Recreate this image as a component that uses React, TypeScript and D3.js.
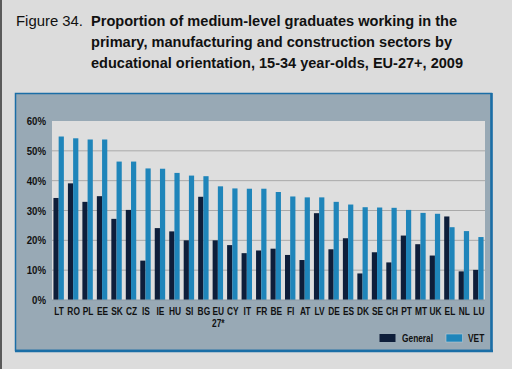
import React from 'react';
import * as d3 from 'd3';

// countries, ordered as in the figure
const countries = ['LT','RO','PL','EE','SK','CZ','IS','IE','HU','SI','BG','EU27','CY','IT','FR','BE','FI','AT','LV','DE','ES','DK','SE','CH','PT','MT','UK','EL','NL','LU'];
const generalVals = [34.2,39.1,32.9,34.8,27.2,30.2,13.2,24.1,23.0,20.0,34.6,20.0,18.4,15.7,16.6,17.2,15.1,13.4,29.1,17.0,20.7,8.9,16.0,12.6,21.6,18.7,14.9,28.0,9.6,10.1];
const vetVals = [54.8,54.2,53.8,53.8,46.4,46.4,44.1,44.0,42.6,41.7,41.5,38.1,37.4,37.3,37.3,36.2,34.7,34.4,34.4,32.9,32.0,31.1,31.0,30.9,30.2,29.2,28.9,24.4,23.1,21.1];
const yTicks = [0,10,20,30,40,50,60];
const seriesNames = ['General','VET'];

const W = 512, H = 369;
const plot = {left: 52, right: 485, top: 121, bottom: 300};
const cGeneral = '#0e1e3a', cVet = '#1f85ba';
const sans = '"Liberation Sans", Arial, Helvetica, sans-serif';

// condensed bold label: horizontal squeeze since no narrow font is installed
const Narrow = ({x, y, anchor = 'middle', sx = 0.76, size = 11, children}: any) => (
  <text transform={`translate(${x},${y}) scale(${sx},1)`} textAnchor={anchor}
    fontFamily={sans} fontSize={size} fontWeight="bold" fill="#111">{children}</text>
);

const App = (): JSX.Element => {
  const x = d3.scaleBand<string>().domain(countries).range([plot.left, plot.right]).paddingInner(0.28).paddingOuter(0.1);
  const sub = d3.scaleBand<string>().domain(seriesNames).range([0, x.bandwidth()]).padding(0);
  const y = d3.scaleLinear().domain([0, 60]).range([plot.bottom, plot.top]);
  const cx = (c: string) => x(c)! + x.bandwidth() / 2 + 0.5;

  return (
    <div style={{position: 'fixed', left: 0, top: 0}}>
      <svg width={W} height={H} style={{display: 'block'}}>
        <rect x={0} y={0} width={W} height={H} fill="#dcdcdc" />
        <rect x={0} y={0} width={2} height={H} fill="#5a5a5a" />

        {/* title */}
        <text x={16} y={26} fontFamily={sans} fontSize={14.5} fill="#111" textLength={67} lengthAdjust="spacingAndGlyphs">Figure 34.</text>
        <g fontFamily={sans} fontSize={15} fontWeight="bold" fill="#111">
          <text x={91} y={26} textLength={366} lengthAdjust="spacingAndGlyphs">Proportion of medium-level graduates working in the</text>
          <text x={91} y={47} textLength={361} lengthAdjust="spacingAndGlyphs">primary, manufacturing and construction sectors by</text>
          <text x={91} y={68} textLength={372} lengthAdjust="spacingAndGlyphs">educational orientation, 15-34 year-olds, EU-27+, 2009</text>
        </g>

        {/* panel */}
        <rect x={15.5} y={93.5} width={476} height={257} fill="#98a9b5" stroke="#1b6ea6" strokeWidth={1.5} />
        <line x1={491.5} y1={93} x2={491.5} y2={352} stroke="#1b6ea6" strokeWidth={2.5} />
        <line x1={15} y1={351} x2={493} y2={351} stroke="#1b6ea6" strokeWidth={2.5} />

        {/* plot area */}
        <rect x={plot.left} y={plot.top} width={plot.right - plot.left} height={plot.bottom - plot.top} fill="#dedede" />
        {yTicks.slice(1, -1).map(t => (
          <line key={t} x1={plot.left} x2={plot.right} y1={y(t)} y2={y(t)} stroke="#a9a9a9" strokeWidth={1} />
        ))}

        {/* bars */}
        {countries.map((c, i) => (
          <g key={c}>
            <rect x={x(c)! + sub('General')!} y={y(generalVals[i])} width={sub.bandwidth()} height={y(0) - y(generalVals[i])} fill={cGeneral} />
            <rect x={x(c)! + sub('VET')!} y={y(vetVals[i])} width={sub.bandwidth()} height={y(0) - y(vetVals[i])} fill={cVet} />
          </g>
        ))}
        <line x1={plot.left} x2={plot.right} y1={y(0)} y2={y(0)} stroke="#8a9aa6" strokeWidth={1} />

        {/* y axis labels */}
        {yTicks.map(t => (
          <Narrow key={t} x={46} y={y(t) + 4} anchor="end" sx={0.84} size={11.5}>{t}%</Narrow>
        ))}

        {/* x axis labels */}
        {countries.map(c => c === 'EU27' ? (
          <g key={c}>
            <Narrow x={cx(c)} y={315}>EU</Narrow>
            <Narrow x={cx(c)} y={327}>27*</Narrow>
          </g>
        ) : (
          <Narrow key={c} x={cx(c)} y={315}>{c}</Narrow>
        ))}

        {/* legend */}
        <rect x={379.5} y={334} width={16} height={8} fill={cGeneral} />
        <Narrow x={402} y={342} anchor="start">General</Narrow>
        <rect x={446} y={334} width={16.5} height={8} fill={cVet} stroke="#b8ccd8" strokeWidth={0.6} />
        <Narrow x={468} y={342} anchor="start">VET</Narrow>
      </svg>
    </div>
  );
};

export default App;
